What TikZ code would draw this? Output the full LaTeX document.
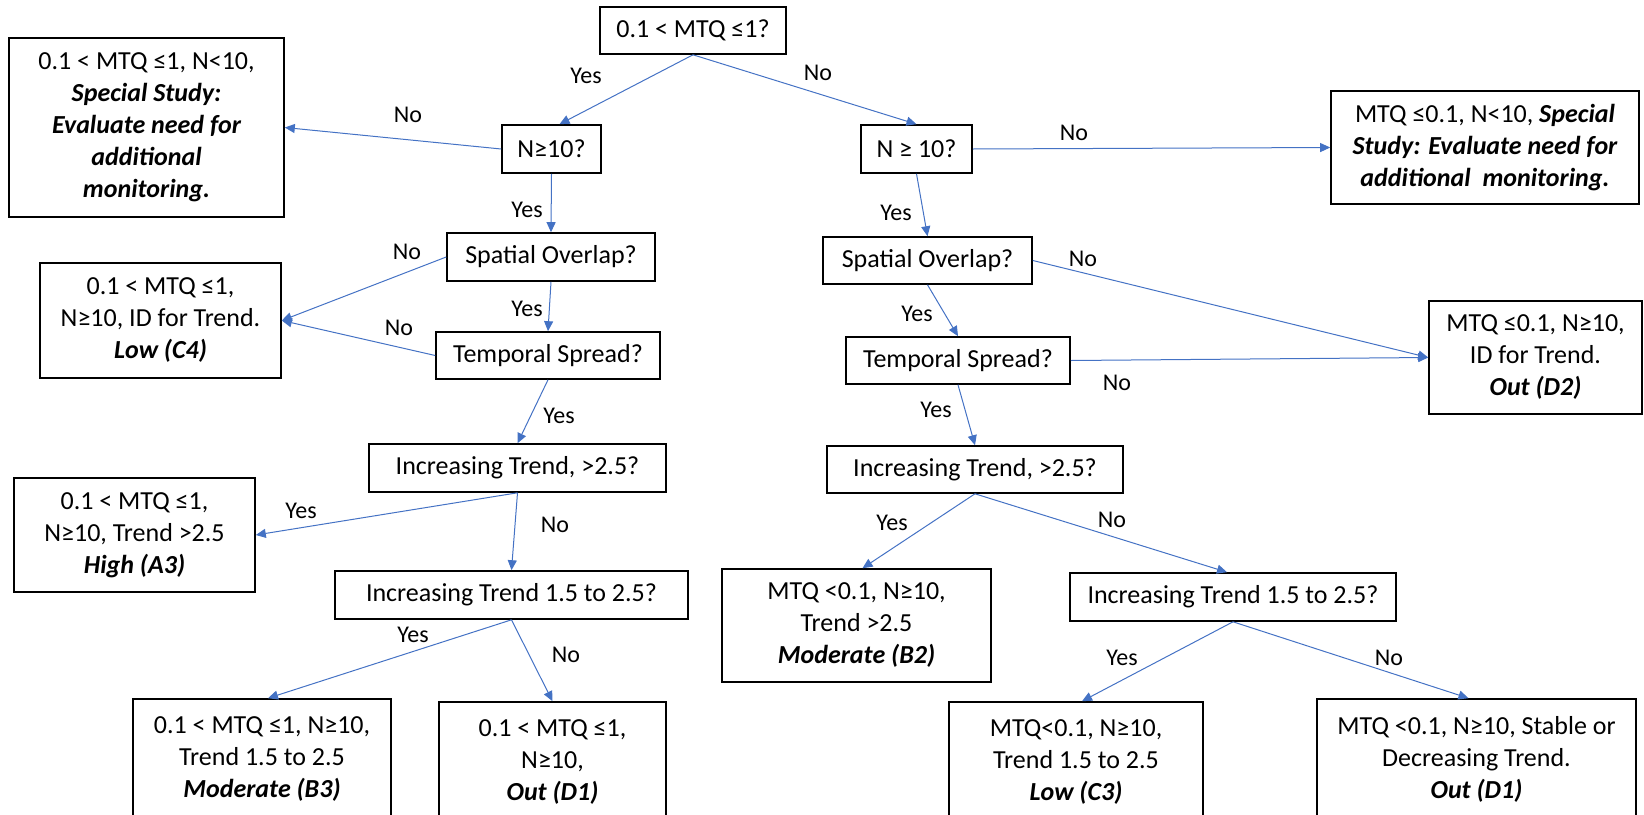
\documentclass[tikz,border=0pt]{standalone}
\usepackage{fontspec}
\setmainfont{Carlito}
\usepackage{tikz}
\usetikzlibrary{arrows.meta, positioning}
\definecolor{flecha}{HTML}{4472C4}

\begin{document}
\begin{tikzpicture}[
	x=0.5pt, y=-0.5pt,
	% flechas azules con punta triangular
	myarrow/.style={-{Triangle[length=5pt, width=4.5pt]}, line width=0.5pt, flecha},
	question/.style={rectangle, draw, line width=0.8pt, inner sep=0pt, minimum height=24pt, align=center, font=\fontsize{13}{16}\selectfont},
	result/.style={rectangle, draw, line width=0.8pt, inner sep=0pt, align=center, font=\fontsize{13}{16}\selectfont},
	lbl/.style={inner sep=0pt, font=\fontsize{12}{14}\selectfont}
	]
	
	\useasboundingbox (0,0) rectangle (1644,814);
	\clip (0,0) rectangle (1644,814);
	
	% preguntas
	\node[question, minimum width=93pt, minimum height=23.5pt] (q1) at (693,30.5) {0.1 < MTQ ≤1?};
	\node[question, minimum width=49.5pt] (q2) at (551.5,149) {N≥10?};
	\node[question, minimum width=55.5pt] (q3) at (916.5,149) {N ≥ 10?};
	\node[question, minimum width=104pt] (q4) at (551,257) {Spatial Overlap?};
	\node[question, minimum width=112pt, minimum height=23.5pt] (q5) at (548,355.5) {Temporal Spread?};
	\node[question, minimum width=104.5pt, minimum height=23.5pt] (q6) at (927.5,260.5) {Spatial Overlap?};
	\node[question, minimum width=112pt, minimum height=23.5pt] (q7) at (958,360.5) {Temporal Spread?};
	\node[question, minimum width=148.5pt] (q8) at (517.5,468) {Increasing Trend, >2.5?};
	\node[question, minimum width=176.5pt] (q9) at (511.5,595) {Increasing Trend 1.5 to 2.5?};
	\node[question, minimum width=148pt, minimum height=23.5pt] (q10) at (975,469.5) {Increasing Trend, >2.5?};
	\node[question, minimum width=163pt] (q11) at (1233,597) {Increasing Trend 1.5 to 2.5?};
	
	% resultados
	\node[result, minimum width=137.5pt, minimum height=89.5pt] (r1) at (146.5,127.5) {0.1 < MTQ ≤1, N<10,\\{\bfseries\itshape Special Study:}\\{\bfseries\itshape Evaluate need for}\\{\bfseries\itshape additional}\\{\bfseries\itshape monitoring.}};
	\node[result, minimum width=154pt, minimum height=56.5pt] (r2) at (1485,147.5) {MTQ ≤0.1, N<10, {\bfseries\itshape Special}\\{\bfseries\itshape Study: Evaluate need for}\\{\bfseries\itshape additional\ \ monitoring.}};
	\node[result, minimum width=120.5pt, minimum height=57.5pt] (r3) at (160.5,320.5) {0.1 < MTQ ≤1,\\N≥10, ID for Trend.\\{\bfseries\itshape Low (C4)}};
	\node[result, minimum width=106.5pt, minimum height=56.5pt] (r4) at (1535.5,357.5) {MTQ ≤0.1, N≥10,\\ID for Trend.\\{\bfseries\itshape Out (D2)}};
	\node[result, minimum width=120.5pt, minimum height=57pt] (r5) at (134.5,535) {0.1 < MTQ ≤1,\\N≥10, Trend >2.5\\{\bfseries\itshape High (A3)}};
	\node[result, minimum width=134.5pt, minimum height=56.5pt] (r6) at (856.5,625.5) {MTQ <0.1, N≥10,\\Trend >2.5\\{\bfseries\itshape Moderate (B2)}};
	\node[result, minimum width=129pt, minimum height=60pt] (r7) at (262,759) {0.1 < MTQ ≤1, N≥10,\\Trend 1.5 to 2.5\\{\bfseries\itshape Moderate (B3)}};
	\node[result, minimum width=113.5pt, minimum height=60pt] (r8) at (552.5,762) {0.1 < MTQ ≤1,\\N≥10,\\{\bfseries\itshape Out (D1)}};
	\node[result, minimum width=127pt, minimum height=60pt] (r9) at (1076,762) {MTQ<0.1, N≥10,\\Trend 1.5 to 2.5\\{\bfseries\itshape Low (C3)}};
	\node[result, minimum width=159.5pt, minimum height=60pt] (r10) at (1476.5,759) {MTQ <0.1, N≥10, Stable or\\Decreasing Trend.\\{\bfseries\itshape Out (D1)}};
	
	% conexiones
	\draw[myarrow] (q1.south) -- ([xshift=4pt]q2.north);
	\draw[myarrow] (q1.south) -- (q3.north);
	\draw[myarrow] (q2.west) -- (r1.east);
	\draw[myarrow] (q2.south) -- (q4.north);
	\draw[myarrow] (q4.west) -- (r3.east);
	\draw[myarrow] (q4.south) -- (q5.north);
	\draw[myarrow] (q5.west) -- (r3.east);
	\draw[myarrow] (q5.south) -- (q8.north);
	\draw[myarrow] (q8.south) -- (r5.east);
	\draw[myarrow] (q8.south) -- (q9.north);
	\draw[myarrow] (q9.south) -- ([xshift=3pt]r7.north);
	\draw[myarrow] (q9.south) -- (r8.north);
	\draw[myarrow] (q3.east) -- (r2.west);
	\draw[myarrow] (q3.south) -- (q6.north);
	\draw[myarrow] (q6.east) -- (r4.west);
	\draw[myarrow] (q6.south) -- (q7.north);
	\draw[myarrow] (q7.east) -- (r4.west);
	\draw[myarrow] (q7.south) -- (q10.north);
	\draw[myarrow] (q10.south) -- ([xshift=3pt]r6.north);
	\draw[myarrow] (q10.south) -- ([xshift=-3pt]q11.north);
	\draw[myarrow] (q11.south) -- ([xshift=3pt]r9.north);
	\draw[myarrow] (q11.south) -- ([xshift=-4pt]r10.north);
	
	% etiquetas
	\node[lbl] (y1) at (586,76) {Yes};
	\node[lbl] (n1) at (818,73) {No};
	\node[lbl] (n2) at (408,115) {No};
	\node[lbl] (y2) at (527,210) {Yes};
	\node[lbl] (n3) at (407,252) {No};
	\node[lbl] (y3) at (527,309) {Yes};
	\node[lbl] (n4) at (399,328) {No};
	\node[lbl] (y4) at (559,416) {Yes};
	\node[lbl] (y5) at (301,511) {Yes};
	\node[lbl] (n5) at (555,525) {No};
	\node[lbl] (y6) at (413,635) {Yes};
	\node[lbl] (n6) at (566,655) {No};
	\node[lbl] (n7) at (1074,133) {No};
	\node[lbl] (y7) at (896,213) {Yes};
	\node[lbl] (n8) at (1083,259) {No};
	\node[lbl] (y8) at (917,314) {Yes};
	\node[lbl] (n9) at (1117,383) {No};
	\node[lbl] (y9) at (936,410) {Yes};
	\node[lbl] (y10) at (892,523) {Yes};
	\node[lbl] (n10) at (1112,520) {No};
	\node[lbl] (y11) at (1122,658) {Yes};
	\node[lbl] (n11) at (1389,658) {No};
	
\end{tikzpicture}
\end{document}
